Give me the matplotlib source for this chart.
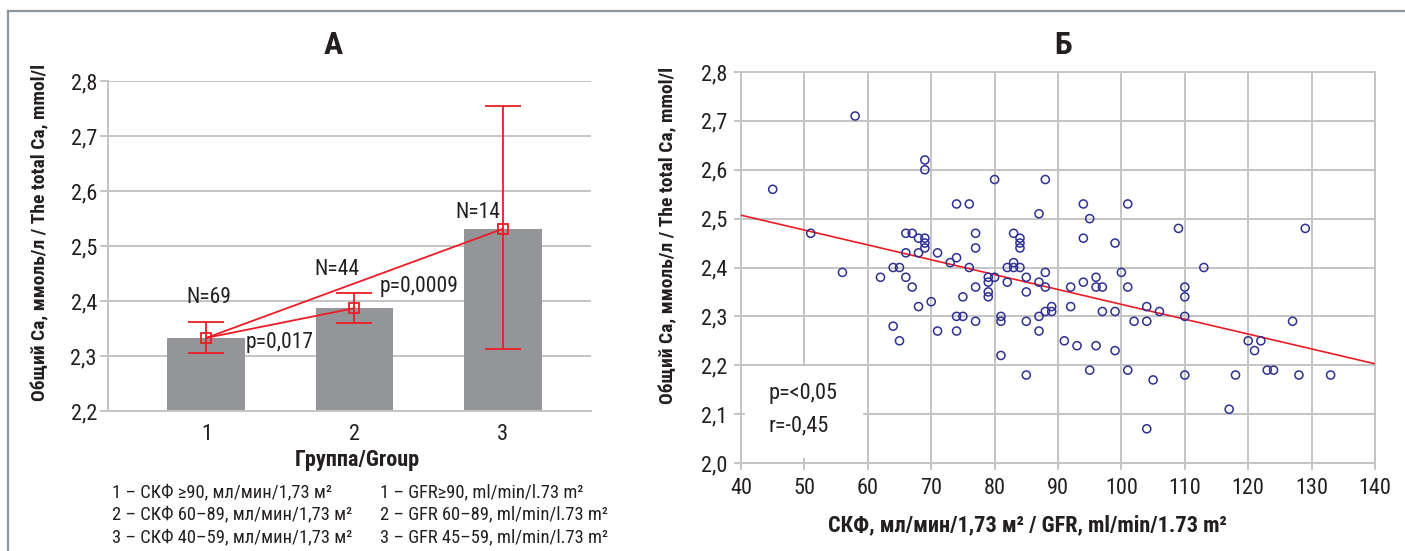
import matplotlib
matplotlib.use("Agg")
import matplotlib.pyplot as plt
from matplotlib.lines import Line2D
from matplotlib.patches import Rectangle

plt.rcParams['font.family'] = ['Liberation Sans Narrow', 'Roboto Condensed',
                               'Open Sans Condensed', 'DejaVu Sans Condensed',
                               'Liberation Sans', 'DejaVu Sans']
plt.rcParams['font.stretch'] = 'condensed'

# ---------------- data: panel A ----------------
groups = [1, 2, 3]
group_labels = ["1", "2", "3"]
bar_means = [2.333, 2.387, 2.531]
err_low = [2.306, 2.360, 2.313]
err_high = [2.361, 2.414, 2.754]
n_labels = ["N=69", "N=44", "N=14"]
yticks_a = [2.2, 2.3, 2.4, 2.5, 2.6, 2.7, 2.8]

# ---------------- data: panel B ----------------
gfr = [45, 51, 56, 58, 62, 64, 64, 65, 65, 66, 66, 66, 67, 67, 68, 68, 68,
       69, 69, 69, 69, 69, 70, 71, 71, 73, 74, 74, 74, 74, 75, 75, 76, 76,
       77, 77, 77, 77, 79, 79, 79, 79, 80, 80, 81, 81, 81, 82, 82, 83, 83,
       83, 84, 84, 84, 84, 85, 85, 85, 85, 87, 87, 87, 87, 88, 88, 88, 88,
       89, 89, 91, 92, 92, 93, 94, 94, 94, 95, 95, 96, 96, 96, 97, 97, 99,
       99, 99, 100, 101, 101, 101, 102, 104, 104, 104, 105, 106, 109, 110,
       110, 110, 110, 113, 117, 118, 120, 121, 122, 123, 124, 127, 128, 129,
       133]
ca = [2.56, 2.47, 2.39, 2.71, 2.38, 2.40, 2.28, 2.40, 2.25, 2.47, 2.43, 2.38,
      2.47, 2.36, 2.46, 2.43, 2.32, 2.62, 2.60, 2.46, 2.45, 2.44, 2.33, 2.43,
      2.27, 2.41, 2.42, 2.53, 2.30, 2.27, 2.34, 2.30, 2.53, 2.40, 2.47, 2.44,
      2.36, 2.29, 2.38, 2.37, 2.35, 2.34, 2.58, 2.38, 2.30, 2.29, 2.22, 2.40,
      2.37, 2.47, 2.41, 2.40, 2.46, 2.45, 2.44, 2.40, 2.38, 2.35, 2.29, 2.18,
      2.51, 2.37, 2.30, 2.27, 2.58, 2.39, 2.36, 2.31, 2.32, 2.31, 2.25, 2.36,
      2.32, 2.24, 2.53, 2.46, 2.37, 2.50, 2.19, 2.38, 2.36, 2.24, 2.36, 2.31,
      2.45, 2.31, 2.23, 2.39, 2.53, 2.36, 2.19, 2.29, 2.32, 2.29, 2.07, 2.17,
      2.31, 2.48, 2.36, 2.34, 2.30, 2.18, 2.40, 2.11, 2.18, 2.25, 2.23, 2.25,
      2.19, 2.19, 2.29, 2.18, 2.48, 2.18]
trend_x = [40, 140]
trend_y = [2.507, 2.203]
xticks_b = [40, 50, 60, 70, 80, 90, 100, 110, 120, 130, 140]
yticks_b = [2.0, 2.1, 2.2, 2.3, 2.4, 2.5, 2.6, 2.7, 2.8]

W, H = 1405, 551
fig = plt.figure(figsize=(W / 100, H / 100), dpi=100)

TXT = '#231f20'
GRID = '#c4c4c4'
RED = '#ed1c24'
BAR = '#939598'
BLUE = '#2e3192'


def px_axes(x0, y0, x1, y1):
    return fig.add_axes([x0 / W, 1 - y1 / H, (x1 - x0) / W, (y1 - y0) / H])


def fmt(v, d=1):
    return f"{v:.{d}f}".replace('.', ',')


YLABEL = "Общий Са, ммоль/л / The total Ca, mmol/l"

# ---------------- panel A ----------------
axA = px_axes(108, 81, 591, 411)
axA.bar(groups, [m - 2.2 for m in bar_means], bottom=2.2, width=0.526,
        color=BAR, zorder=2)
yerr = [[m - lo for m, lo in zip(bar_means, err_low)],
        [hi - m for m, hi in zip(bar_means, err_high)]]
axA.errorbar(groups, bar_means, yerr=yerr, fmt='none', ecolor=RED,
             elinewidth=1.3, capsize=13, capthick=1.3, zorder=4)
axA.plot([groups[0], groups[1]], [bar_means[0], bar_means[1]], color=RED,
         lw=1.3, zorder=4)
axA.plot([groups[0], groups[2]], [bar_means[0], bar_means[2]], color=RED,
         lw=1.3, zorder=4)
axA.plot(groups, bar_means, ls='none', marker='s', ms=7, mfc='none',
         mec=RED, mew=1.3, zorder=5)
axA.set_xlim(0.336, 3.597)
axA.set_ylim(2.2, 2.8)
axA.set_yticks(yticks_a)
axA.set_yticklabels([fmt(v) for v in yticks_a])
axA.set_xticks(groups)
axA.set_xticklabels(group_labels)
axA.yaxis.grid(True, color=GRID, lw=1.4, zorder=0)
axA.set_axisbelow(True)
for s in ['top', 'right']:
    axA.spines[s].set_visible(False)
axA.spines['left'].set_color(GRID)
axA.spines['left'].set_linewidth(1.4)
axA.spines['bottom'].set_color(GRID)
axA.spines['bottom'].set_linewidth(1.4)
axA.tick_params(axis='y', length=6, width=1.4, color=GRID, labelsize=16,
                labelcolor=TXT, pad=2)
axA.tick_params(axis='x', length=0, labelsize=16, labelcolor=TXT, pad=9)

axA.text(1.017, 2.406, n_labels[0], ha='center', va='center', fontsize=15.5, color=TXT)
axA.text(1.879, 2.458, n_labels[1], ha='center', va='center', fontsize=15.5, color=TXT)
axA.text(2.834, 2.561, n_labels[2], ha='center', va='center', fontsize=15.5, color=TXT)
axA.text(1.497, 2.324, "p=0,017", ha='center', va='center', fontsize=15.5, color=TXT)
axA.text(2.436, 2.426, "p=0,0009", ha='center', va='center', fontsize=15.5, color=TXT)
fig.text(357 / W, 1 - 460 / H, "Группа/Group", fontsize=16, fontweight='bold',
         color=TXT, ha='center', va='center')
fig.text(40 / W, 1 - 232 / H, YLABEL, fontsize=14, fontweight='bold',
         color=TXT, ha='center', va='center', rotation=90)
fig.text(333 / W, 1 - 45 / H, "А", fontsize=23, fontweight='bold', color=TXT,
         ha='center', va='center')

leg_left = ["1 – СКФ ≥90, мл/мин/1,73 м²",
            "2 – СКФ 60–89, мл/мин/1,73 м²",
            "3 – СКФ 40–59, мл/мин/1,73 м²"]
leg_right = ["1 – GFR≥90, ml/min/l.73 m²",
             "2 – GFR 60–89, ml/min/l.73 m²",
             "3 – GFR 45–59, ml/min/l.73 m²"]
for i, (l, r) in enumerate(zip(leg_left, leg_right)):
    yy = 1 - (492 + 22.5 * i) / H
    fig.text(112 / W, yy, l, fontsize=13.3, color=TXT, va='center', ha='left')
    fig.text(380 / W, yy, r, fontsize=13.3, color=TXT, va='center', ha='left')

# ---------------- panel B ----------------
axB = px_axes(741, 72, 1375, 463)
axB.scatter(gfr, ca, s=34, facecolors='none', edgecolors=BLUE,
            linewidths=1.1, zorder=4)
axB.plot(trend_x, trend_y, color=RED, lw=1.2, zorder=3)
axB.set_xlim(40, 140)
axB.set_ylim(2.0, 2.8)
axB.set_xticks(xticks_b)
axB.set_xticklabels([str(v) for v in xticks_b])
axB.set_yticks(yticks_b)
axB.set_yticklabels([fmt(v) for v in yticks_b])
axB.grid(True, color=GRID, lw=1.4, zorder=0)
axB.set_axisbelow(True)
for s in axB.spines.values():
    s.set_color(GRID)
    s.set_linewidth(1.4)
axB.tick_params(axis='both', length=5, width=1.4, color=GRID, labelsize=16,
                labelcolor=TXT)
axB.tick_params(axis='y', pad=5)
axB.tick_params(axis='x', pad=6)
axB.add_patch(Rectangle((0.006, 0.014), 0.186, 0.233, transform=axB.transAxes,
                        facecolor='white', edgecolor='none', zorder=2))
axB.text(0.043, 0.179, "p=<0,05", transform=axB.transAxes, ha='left',
         va='center', fontsize=16, color=TXT, zorder=5)
axB.text(0.043, 0.095, "r=-0,45", transform=axB.transAxes, ha='left',
         va='center', fontsize=16, color=TXT, zorder=5)
fig.text(1027 / W, 1 - 525 / H, "СКФ, мл/мин/1,73 м² / GFR, ml/min/1.73 m²",
         fontsize=16, fontweight='bold', color=TXT, ha='center', va='center')
fig.text(668 / W, 1 - 235 / H, YLABEL, fontsize=14, fontweight='bold',
         color=TXT, ha='center', va='center', rotation=90)
fig.text(1063 / W, 1 - 45 / H, "Б", fontsize=23, fontweight='bold', color=TXT,
         ha='center', va='center')

# outer frame (top and left)
fig.add_artist(Line2D([8 / W, 1.0], [1 - 11 / H, 1 - 11 / H], color='#8c969e',
                      lw=1.6, transform=fig.transFigure))
fig.add_artist(Line2D([8 / W, 8 / W], [0, 1 - 11 / H], color='#8c969e',
                      lw=1.6, transform=fig.transFigure))

fig.savefig("out.png", dpi=100)
